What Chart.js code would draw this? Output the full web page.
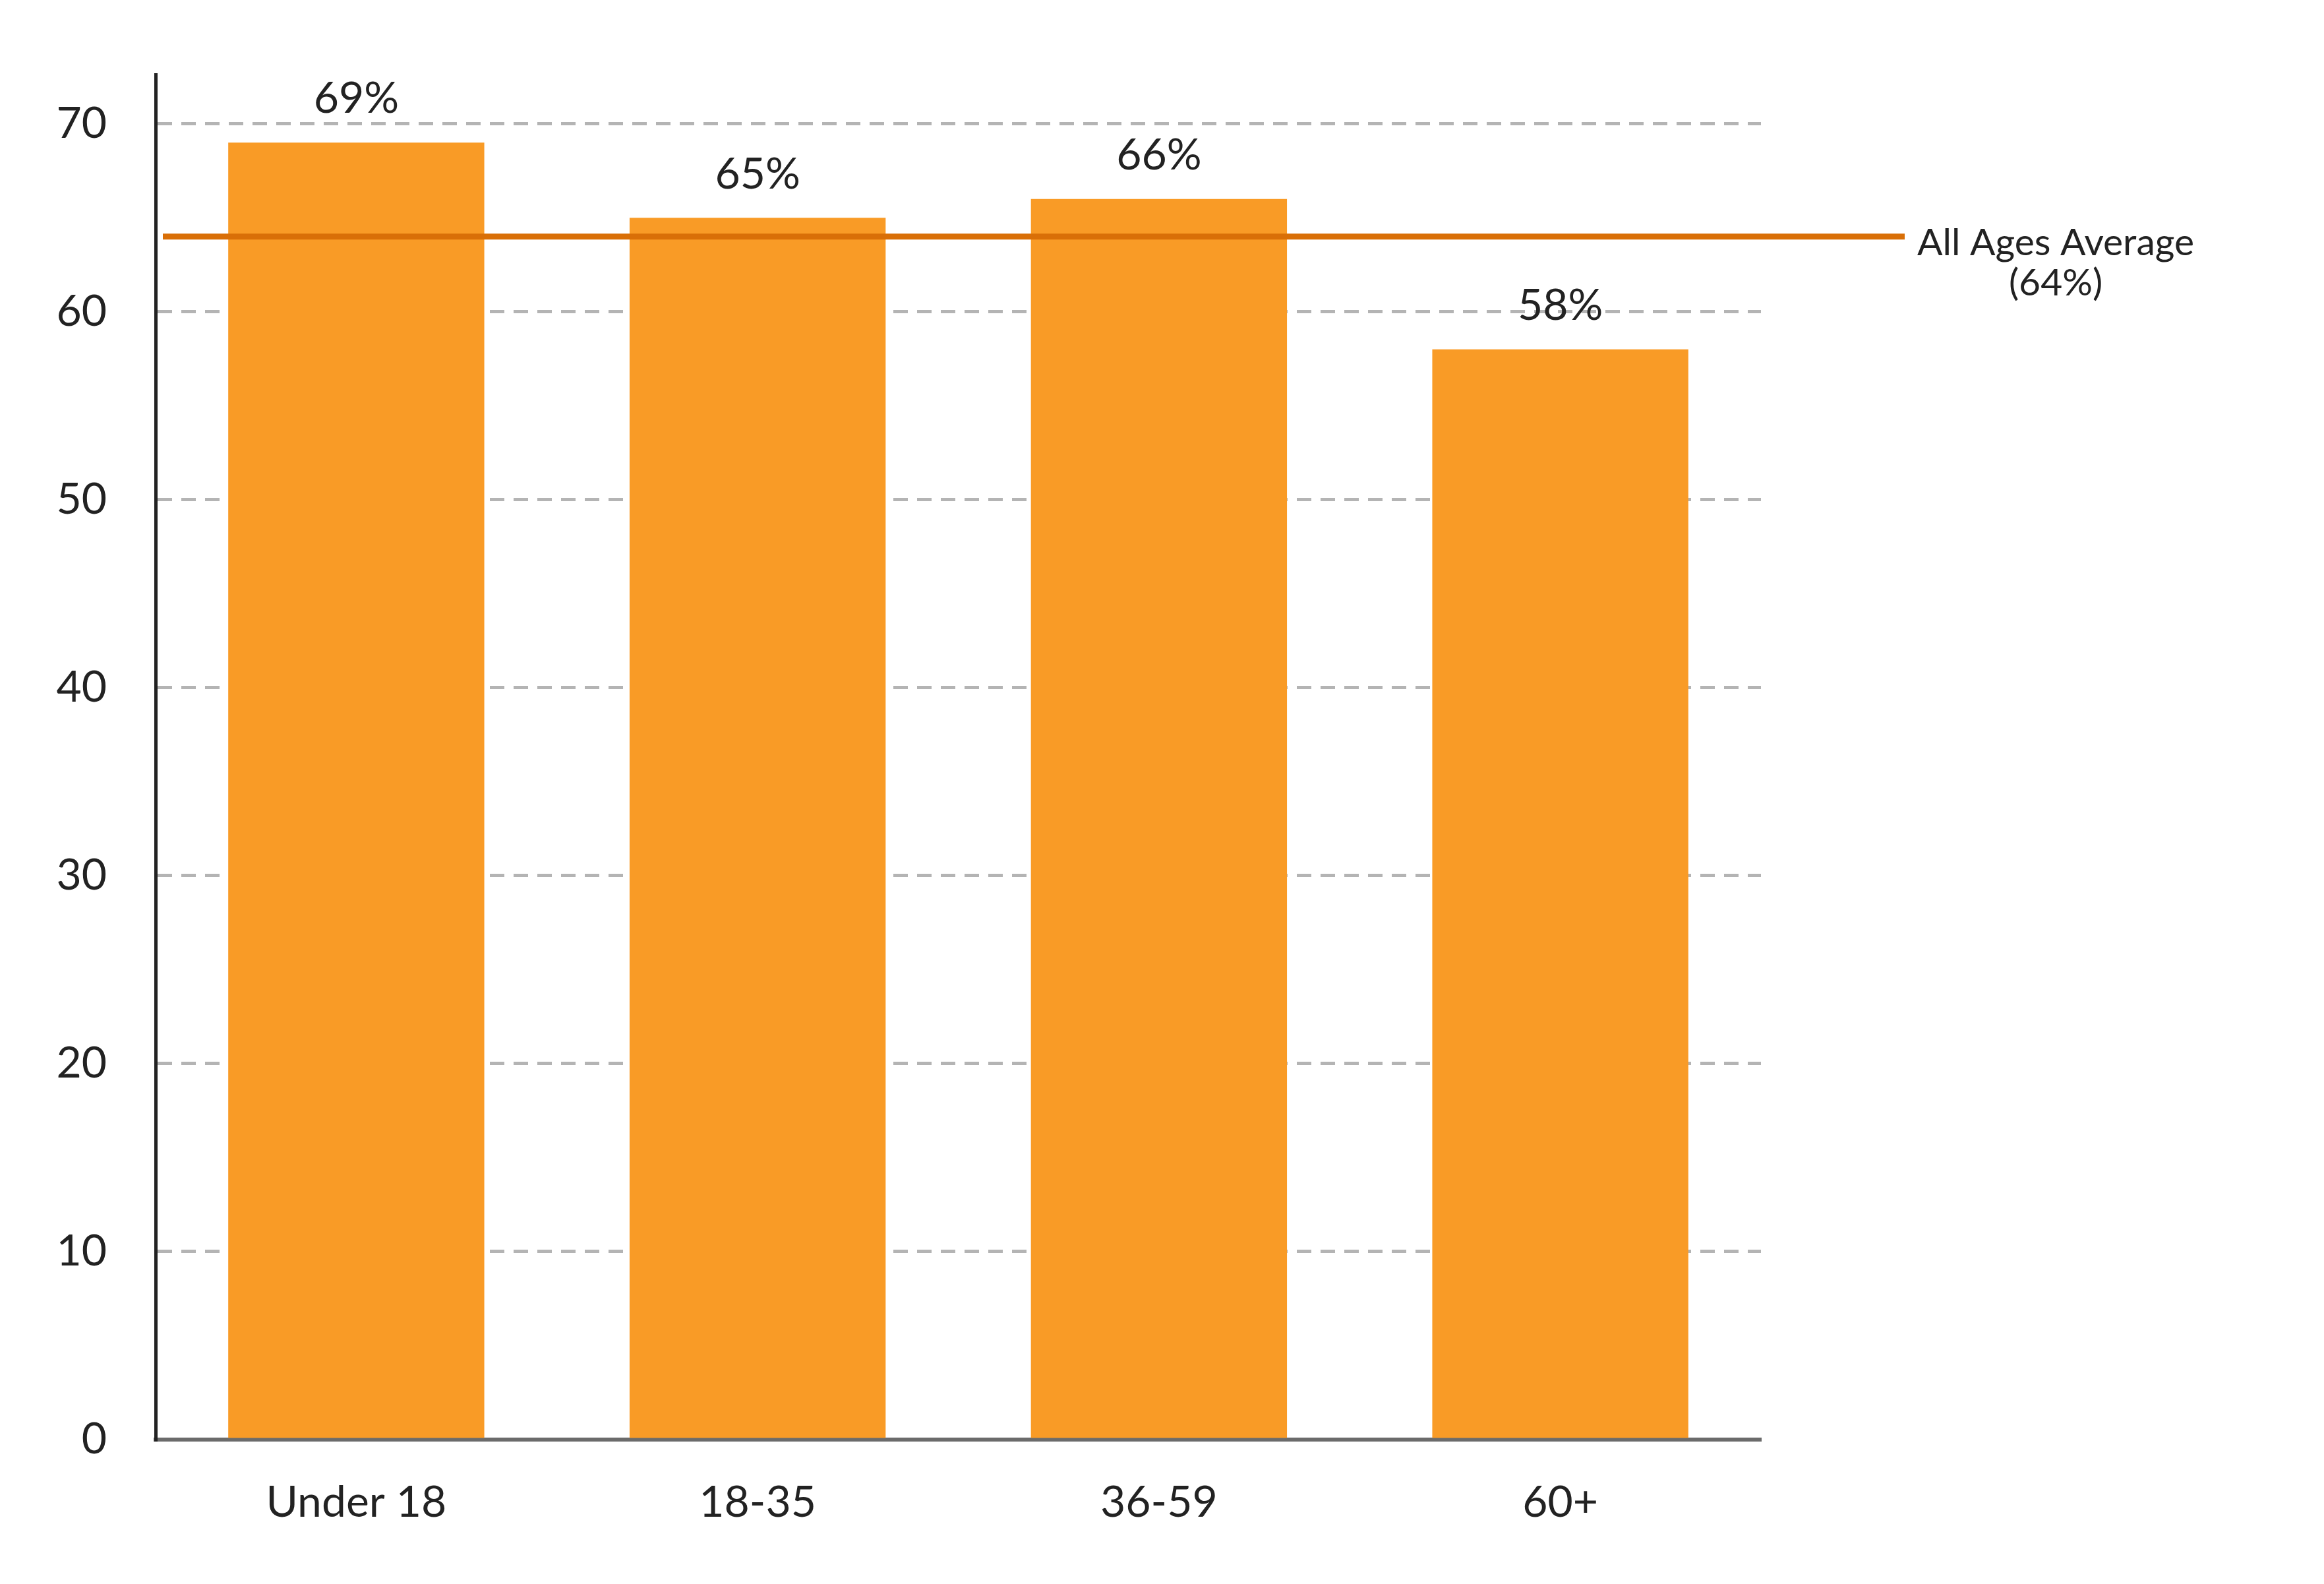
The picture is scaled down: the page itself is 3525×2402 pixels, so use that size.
<!DOCTYPE html>
<html>
<head>
<meta charset="utf-8">
<script src="https://cdn.jsdelivr.net/npm/chart.js@4.4.0/dist/chart.umd.min.js"></script>
<style>
  html, body { margin: 0; padding: 0; background: #fff; }
  #wrap { width: 3525px; height: 2402px; }
</style>
</head>
<body>
<div id="wrap"><canvas id="myChart" width="3525" height="2402"></canvas></div>
<script>
// data
const ageGroups = ["Under 18", "18-35", "36-59", "60+"];
const shareValues = [69, 65, 66, 58];
const allAgesAverage = 64;
const averageLabel = ["All Ages Average", "(64%)"];
const yTicks = [0, 10, 20, 30, 40, 50, 60, 70];

const barColor = "#F99B26";
const lineColor = "#D96F07";
const textColor = "#222222";
const fontFamily = "Lato, 'Open Sans', sans-serif";

// labels above the bars
const valueLabels = {
    id: "valueLabels",
    afterDatasetsDraw(chart) {
        const ctx = chart.ctx;
        const meta = chart.getDatasetMeta(0);
        ctx.save();
        ctx.font = "66px " + fontFamily;
        ctx.fillStyle = textColor;
        ctx.textAlign = "center";
        ctx.textBaseline = "middle";
        meta.data.forEach((bar, i) => {
            ctx.fillText(shareValues[i] + "%", bar.x, bar.y - 66);
        });
        ctx.restore();
    }
};

// average line, runs past the plot area to its label
const averageLine = {
    id: "averageLine",
    afterDatasetsDraw(chart) {
        const ctx = chart.ctx;
        const area = chart.chartArea;
        const y = chart.scales.y.getPixelForValue(allAgesAverage);
        const x0 = area.left + 11;
        const x1 = area.right + 218;
        ctx.save();
        ctx.strokeStyle = lineColor;
        ctx.lineWidth = 9;
        ctx.beginPath();
        ctx.moveTo(x0, y);
        ctx.lineTo(x1, y);
        ctx.stroke();

        ctx.font = "57px " + fontFamily;
        ctx.fillStyle = textColor;
        ctx.textAlign = "center";
        ctx.textBaseline = "middle";
        ctx.fillText(averageLabel[0], x1 + 229, y + 10);
        ctx.fillText(averageLabel[1], x1 + 229, y + 71);
        ctx.restore();
    }
};

const ctx = document.getElementById("myChart").getContext("2d");
const myChart = new Chart(ctx, {
    type: "bar",
    data: {
        labels: ageGroups,
        datasets: [{
            data: shareValues,
            backgroundColor: barColor,
            borderWidth: 0,
            barPercentage: 0.638,
            categoryPercentage: 1
        }]
    },
    options: {
        responsive: false,
        animation: false,
        events: [],
        layout: { padding: { left: 0, right: 854, top: 108, bottom: 0 } },
        plugins: {
            legend: { display: false },
            tooltip: { enabled: false }
        },
        scales: {
            x: {
                z: 1,
                grid: { display: false, drawTicks: false },
                border: { display: true, color: "#6b6b6b", width: 6 },
                ticks: {
                    padding: 56,
                    color: textColor,
                    font: { family: fontFamily, size: 66 }
                },
                afterFit(scale) { scale.height = 219; }
            },
            y: {
                min: 0,
                max: 72.6,
                grid: {
                    drawTicks: false,
                    color: (c) => c.tick && c.tick.value === 0 ? "rgba(0,0,0,0)" : "#b4b4b4",
                    lineWidth: 5
                },
                border: { display: true, color: "#222222", width: 5, dash: [22, 14] },
                ticks: {
                    stepSize: 10,
                    padding: 74,
                    color: textColor,
                    font: { family: fontFamily, size: 66 }
                },
                afterBuildTicks(scale) {
                    scale.ticks = yTicks.map(v => ({ value: v }));
                },
                afterFit(scale) { scale.width = 236; }
            }
        }
    },
    plugins: [valueLabels, averageLine]
});
</script>
</body>
</html>
